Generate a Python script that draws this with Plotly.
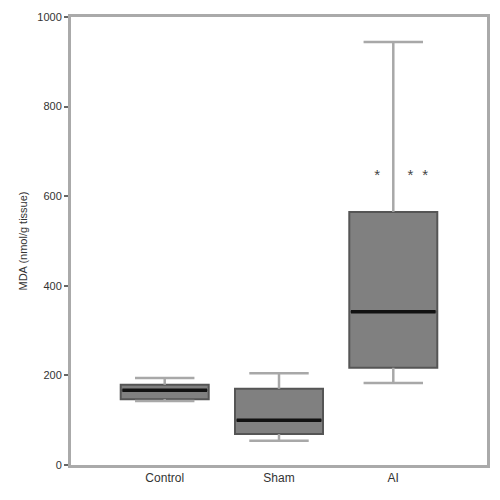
import plotly.graph_objects as go

categories = ["Control", "Sham", "AI"]
lower = [143, 54, 183]
q1 = [147, 69, 217]
median = [167, 100, 342]
q3 = [179, 170, 565]
upper = [194, 205, 944]
star_labels = ["*", "*", "*"]
star_x = [1.86, 2.15, 2.28]
star_y = [645, 645, 645]
y_ticks = [0, 200, 400, 600, 800, 1000]

xs = list(range(len(categories)))
fig = go.Figure()

# whiskers (vertical stems + caps), built from the data
cap = 0.26
wx, wy = [], []
for i in xs:
    wx += [i, i, None, i - cap, i + cap, None, i, i, None, i - cap, i + cap, None]
    wy += [q3[i], upper[i], None, upper[i], upper[i], None,
           q1[i], lower[i], None, lower[i], lower[i], None]
fig.add_trace(go.Scatter(x=wx, y=wy, mode="lines", line=dict(color="#a8a8a8", width=2.5),
                         showlegend=False, hoverinfo="skip"))

# boxes
fig.add_trace(go.Box(
    x=xs, q1=q1, median=median, q3=q3, lowerfence=q1, upperfence=q3,
    fillcolor="#808080", line=dict(color="#555555", width=2),
    width=0.77, whiskerwidth=0, showlegend=False, boxpoints=False))

# medians
for i, m in enumerate(median):
    fig.add_trace(go.Scatter(x=[i - 0.37, i + 0.37], y=[m, m], mode="lines",
                             line=dict(color="#111111", width=3.5),
                             showlegend=False, hoverinfo="skip"))

fig.add_trace(go.Scatter(x=star_x, y=star_y, mode="text", text=star_labels,
                         textfont=dict(size=15, color="#444444", family="Liberation Sans"),
                         showlegend=False, hoverinfo="skip"))

fig.update_layout(
    width=492, height=492, plot_bgcolor="white", paper_bgcolor="white",
    margin=dict(l=63, r=13, t=9, b=35, autoexpand=False),
    font=dict(family="Liberation Sans Narrow, Liberation Sans, Arial", size=11, color="#333333"),
)
fig.update_xaxes(range=[-0.82, 2.82], tickvals=xs, ticktext=categories,
                 showgrid=False, zeroline=False, showline=True, linecolor="#aaaaaa",
                 linewidth=3, mirror=True, ticks="", tickfont=dict(size=12), automargin=False)
fig.update_yaxes(range=[0, 1000], tickvals=y_ticks, showgrid=False, zeroline=False,
                 showline=True, linecolor="#aaaaaa", linewidth=3, mirror=True,
                 ticks="outside", ticklen=4, tickcolor="#666666", tickwidth=2,
                 tickfont=dict(size=11), automargin=False,
                 title=dict(text="MDA (nmol/g tissue)", font=dict(size=11), standoff=8))

fig.write_html("out.html")
